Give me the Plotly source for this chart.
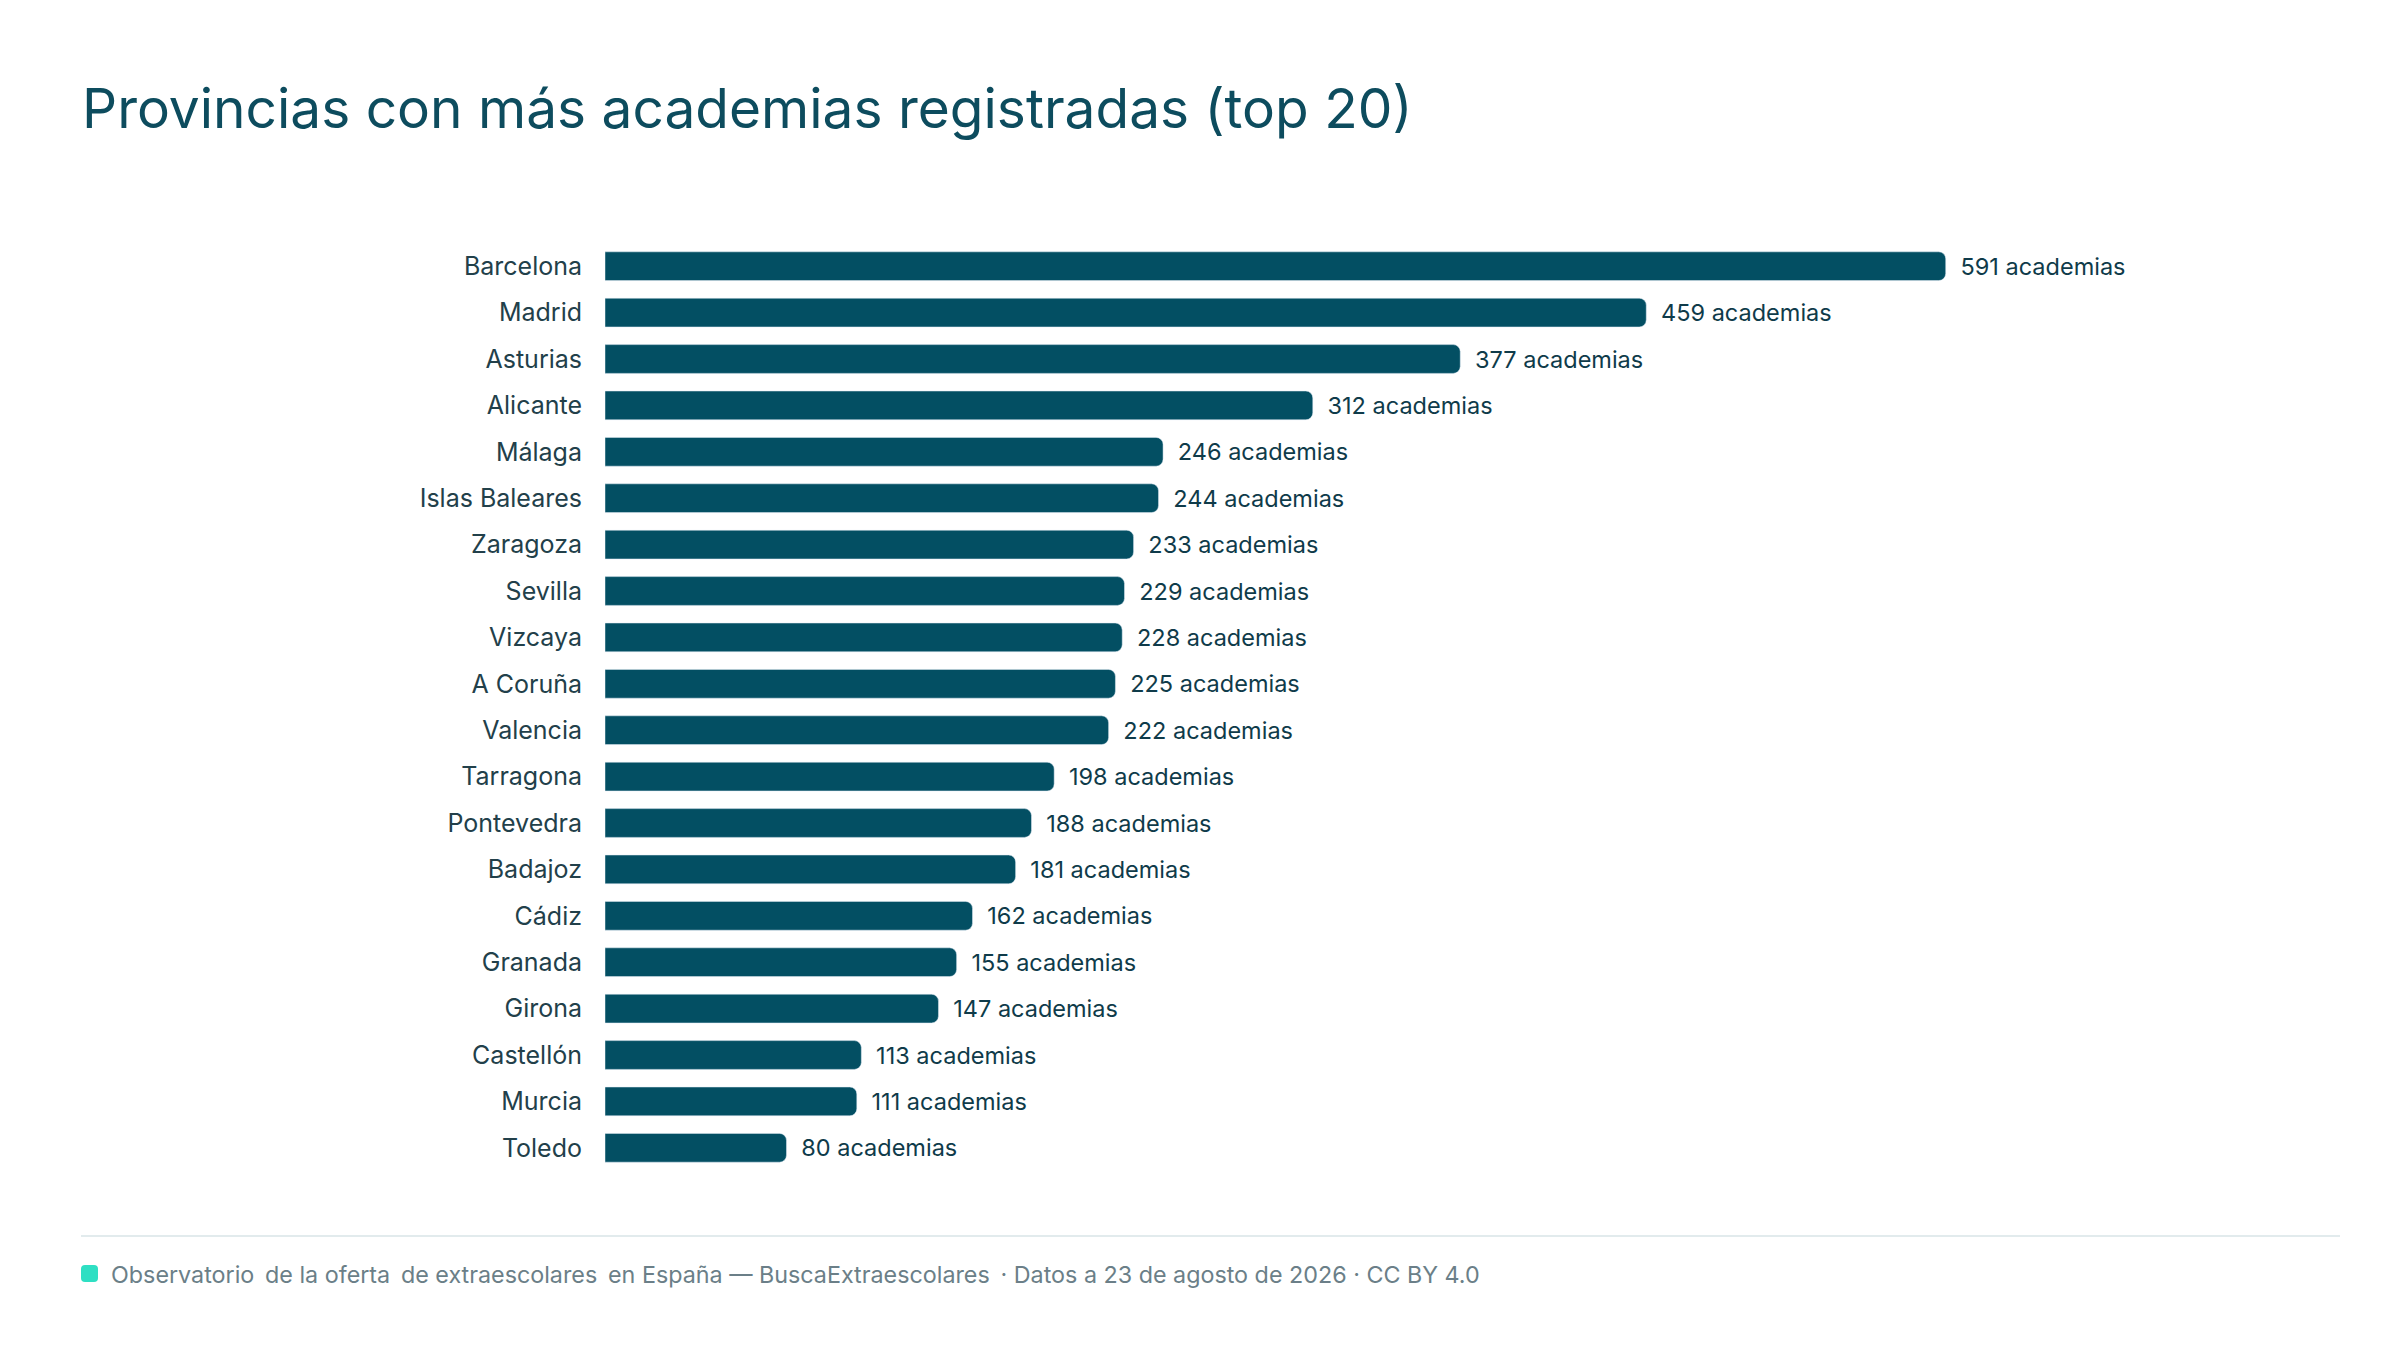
import plotly.graph_objects as go

# data
provincias = ["Barcelona", "Madrid", "Asturias", "Alicante", "Málaga", "Islas Baleares",
              "Zaragoza", "Sevilla", "Vizcaya", "A Coruña", "Valencia", "Tarragona",
              "Pontevedra", "Badajoz", "Cádiz", "Granada", "Girona", "Castellón",
              "Murcia", "Toledo"]
academias = [591, 459, 377, 312, 246, 244, 233, 229, 228, 225, 222, 198,
             188, 181, 162, 155, 147, 113, 111, 80]

W, H = 2400, 1350
ML, MR, MT, MB = 597, 215, 235, 187
PW, PH = W - ML - MR, H - MT - MB

FONT = "Inter, Noto Sans, sans-serif"
LEFT = 73  # left edge of title / footer


def px_x(x):
    return (x - ML) / PW


def px_y(y):
    return (H - MB - y) / PH


fig = go.Figure(go.Bar(
    x=academias,
    y=provincias,
    orientation="h",
    marker=dict(color="#034F63", cornerradius=7),
    width=0.62,
    text=[f"\u2002{v} academias" for v in academias],
    textposition="outside",
    outsidetextfont=dict(family=FONT, size=23.5, color="#0F3B4A"),
    constraintext="none",
    cliponaxis=False,
    hoverinfo="skip",
))

# footer rounded square (pixel coords -> paper)
sx0, sx1, sy0, sy1, r = LEFT, LEFT + 17, 1257, 1274, 4
sq = (f"M {px_x(sx0 + r)},{px_y(sy0)} L {px_x(sx1 - r)},{px_y(sy0)} "
      f"Q {px_x(sx1)},{px_y(sy0)} {px_x(sx1)},{px_y(sy0 + r)} "
      f"L {px_x(sx1)},{px_y(sy1 - r)} Q {px_x(sx1)},{px_y(sy1)} {px_x(sx1 - r)},{px_y(sy1)} "
      f"L {px_x(sx0 + r)},{px_y(sy1)} Q {px_x(sx0)},{px_y(sy1)} {px_x(sx0)},{px_y(sy1 - r)} "
      f"L {px_x(sx0)},{px_y(sy0 + r)} Q {px_x(sx0)},{px_y(sy0)} {px_x(sx0 + r)},{px_y(sy0)} Z")

footer = ("Observatorio\u2009 de la oferta\u2009 de extraescolares\u2009 en España — "
          "BuscaExtraescolares\u2009 · Datos a 23 de agosto de 2026 · CC BY 4.0")

fig.update_layout(
    width=W, height=H,
    margin=dict(l=ML, r=MR, t=MT, b=MB),
    paper_bgcolor="white",
    plot_bgcolor="white",
    showlegend=False,
    title=dict(
        text="Provincias con más academias registradas (top 20)",
        font=dict(family=FONT, size=55, color="#0D4C5E"),
        xref="container", yref="container",
        x=(LEFT + 1) / W, xanchor="left",
        y=1 - 101 / H, yanchor="middle",
    ),
    xaxis=dict(range=[0, 700], visible=False, fixedrange=True),
    yaxis=dict(
        autorange="reversed",
        showgrid=False, zeroline=False, showline=False,
        ticks="", ticklabelstandoff=22,
        tickfont=dict(family=FONT, size=25, color="#22404A"),
    ),
    shapes=[
        dict(type="line", xref="paper", yref="paper",
             x0=px_x(LEFT), x1=px_x(2332), y0=px_y(1228), y1=px_y(1228),
             line=dict(color="#E2EBED", width=2)),
        dict(type="path", xref="paper", yref="paper", path=sq,
             fillcolor="#2EDFC3", line=dict(width=0)),
    ],
    annotations=[
        dict(text=footer,
             xref="paper", yref="paper", x=px_x(LEFT + 28), y=px_y(1266),
             xanchor="left", yanchor="middle", showarrow=False,
             font=dict(family=FONT, size=23.3, color="#6B7F88")),
    ],
)

fig.write_html("out.html")
